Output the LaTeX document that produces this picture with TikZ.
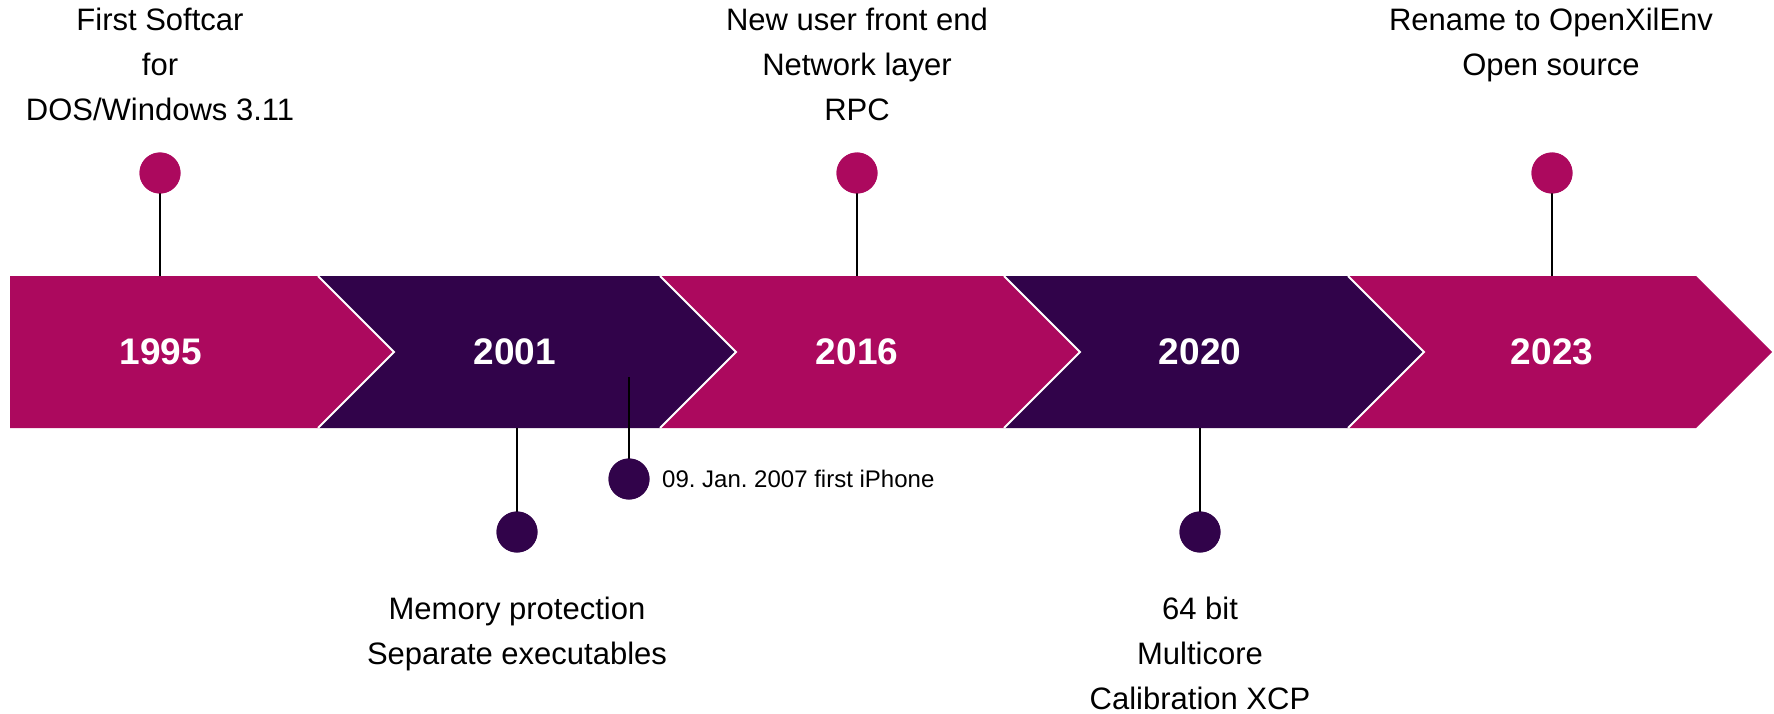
\documentclass[tikz,border=0pt]{standalone}
\usepackage{fontspec}
\setmainfont{Liberation Sans}
\frenchspacing
\definecolor{mag}{RGB}{172,9,94}
\definecolor{pur}{RGB}{49,3,74}
\begin{document}
\begin{tikzpicture}[x=1pt,y=-1pt,
  pin/.style={circle,minimum size=41pt,inner sep=0pt},
  stem/.style={draw=black,line width=2pt},
  sep/.style={draw=white,line width=1.8pt},
  year/.style={text=white,font=\fontsize{37}{44}\selectfont\bfseries,inner sep=0pt},
  note/.style={font=\fontsize{31}{45}\selectfont,align=center,inner sep=0pt,text=black},
  small/.style={font=\fontsize{24}{28}\selectfont\frenchspacing,inner sep=0pt,text=black}]
\useasboundingbox (0,0) rectangle (1774,714);
% band segments
\fill[mag] (10,276) -- (318,276) -- (394,352) -- (318,428) -- (10,428) -- cycle;
\fill[pur] (318,276) -- (660,276) -- (736,352) -- (660,428) -- (318,428) -- (394,352) -- cycle;
\fill[mag] (660,276) -- (1004,276) -- (1080,352) -- (1004,428) -- (660,428) -- (736,352) -- cycle;
\fill[pur] (1004,276) -- (1348,276) -- (1424,352) -- (1348,428) -- (1004,428) -- (1080,352) -- cycle;
\fill[mag] (1348,276) -- (1696,276) -- (1772,352) -- (1696,428) -- (1348,428) -- (1424,352) -- cycle;
% white separators
\draw[sep] (318,276) -- (394,352) -- (318,428);
\draw[sep] (660,276) -- (736,352) -- (660,428);
\draw[sep] (1004,276) -- (1080,352) -- (1004,428);
\draw[sep] (1348,276) -- (1424,352) -- (1348,428);
% year labels
\node[year] (y1995) at (161,352) {1995};
\node[year] (y2001) at (515,352) {2001};
\node[year] (y2016) at (857,352) {2016};
\node[year] (y2020) at (1200,352) {2020};
\node[year] (y2023) at (1552,352) {2023};
% anchor points on the band
\coordinate (b1995) at (160,276);
\coordinate (b2001) at (517,428);
\coordinate (bIph) at (629,377);
\coordinate (b2016) at (857,276);
\coordinate (b2020) at (1200,428);
\coordinate (b2023) at (1552,276);
% pins
\node[pin,fill=mag] (p1995) at (160,173) {};
\node[pin,fill=pur] (p2001) at (517,532) {};
\node[pin,fill=pur] (pIph) at (629,479) {};
\node[pin,fill=mag] (p2016) at (857,173) {};
\node[pin,fill=pur] (p2020) at (1200,532) {};
\node[pin,fill=mag] (p2023) at (1552,173) {};
\draw[stem] (p1995.center) -- (b1995);
\draw[stem] (p2001.center) -- (b2001);
\draw[stem] (pIph.center) -- (bIph);
\draw[stem] (p2016.center) -- (b2016);
\draw[stem] (p2020.center) -- (b2020);
\draw[stem] (p2023.center) -- (b2023);
\node[pin,fill=mag] at (p1995) {};
\node[pin,fill=pur] at (p2001) {};
\node[pin,fill=pur] at (pIph) {};
\node[pin,fill=mag] at (p2016) {};
\node[pin,fill=pur] at (p2020) {};
\node[pin,fill=mag] at (p2023) {};
% texts
\node[note,anchor=north] (t1995) at (160,8) {First Softcar\\for\\DOS/Windows 3.11};
\node[note,anchor=north] (t2016) at (857,8) {New user front end\\Network layer\\RPC};
\node[note,anchor=north] (t2023) at (1551,8) {Rename to OpenXilEnv\\Open source};
\node[note,anchor=north] (t2001) at (517,597) {Memory protection\\Separate executables};
\node[note,anchor=north] (t2020) at (1200,597) {64 bit\\Multicore\\Calibration XCP};
\node[small,anchor=west] (tIph) at (662,479) {09. Jan. 2007 first iPhone};
\end{tikzpicture}
\end{document}
